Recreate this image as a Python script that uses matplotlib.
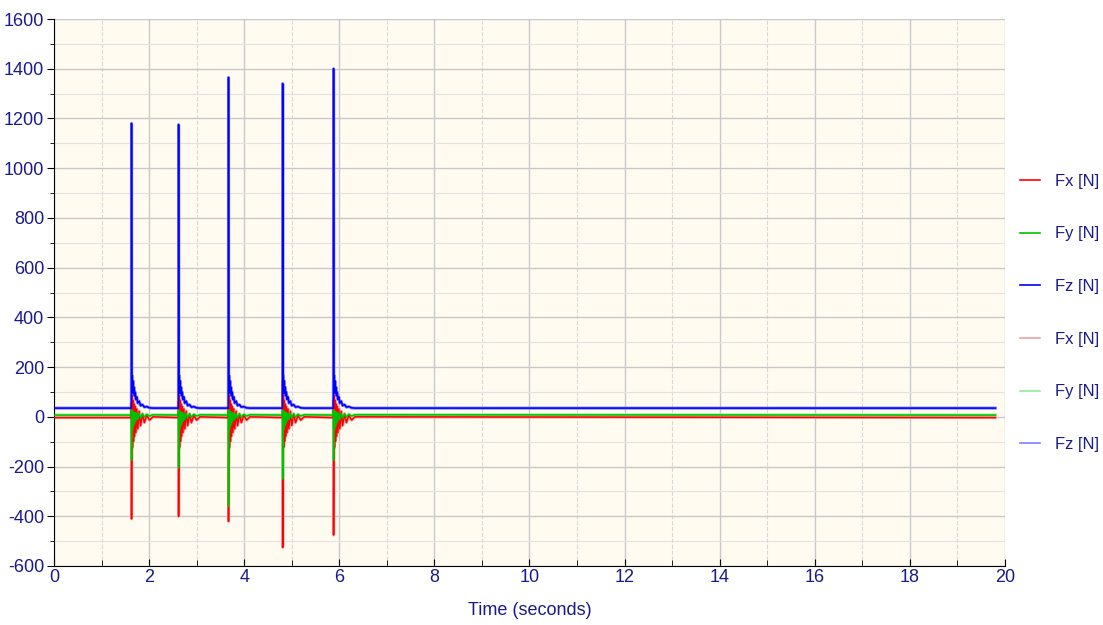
import numpy as np
import matplotlib.pyplot as plt
from matplotlib.ticker import MultipleLocator
from matplotlib.lines import Line2D

plt.rcParams['font.family'] = ['Liberation Sans', 'DejaVu Sans']
plt.rcParams['axes.unicode_minus'] = False

# impact events
spike_t = [1.63, 2.62, 3.67, 4.81, 5.88]
fz_peak = [1180, 1175, 1365, 1340, 1400]
fz_second = [170, 215, 210, 320, 240]
fx_min = [-410, -400, -420, -525, -475]
fx_first = [60, 65, 45, 150, 70]
fy_min = [-175, -205, -360, -250, -175]

# baselines (N) and end of the record (s)
fx_base = -3
fy_base = 7
fz_base = 35
t_end = 19.8

# ringing after each impact: time offsets (s) and values relative to the baseline
tail_dt = [0.005, 0.012, 0.02, 0.03, 0.04, 0.05, 0.06, 0.075, 0.09, 0.11,
           0.13, 0.16, 0.19, 0.23, 0.27, 0.32, 0.38, 0.45]
fx_tail = [-150, 90, -120, 70, -95, 55, -75, 45, -60, 35,
           -45, 25, -32, 15, -20, 9, -10, 3]
fy_tail = [-90, 20, -60, 15, -45, 12, -35, 10, -25, 8,
           -18, 6, -12, 4, -8, 3, -4, 1]
fz_tail = [60, 130, 70, 110, 60, 85, 50, 65, 35, 45,
           20, 28, 10, 14, 4, 6, 1, 0]

labels = ['Fx [N]', 'Fy [N]', 'Fz [N]', 'Fx [N]', 'Fy [N]', 'Fz [N]']
colors = ['#ff0000', '#00c000', '#0000ff', '#f4a0a0', '#90ee90', '#8080ff']


def build(base, first, peak, tail):
    t = [0.0]
    v = [base]
    for i, ts in enumerate(spike_t):
        t += [ts - 0.004, ts - 0.002, ts]
        v += [base, base + first[i], base + peak[i]]
        t += [ts + d for d in tail_dt]
        v += [base + x for x in tail]
    t.append(t_end)
    v.append(base)
    return np.array(t), np.array(v)


fx_t, fx_v = build(fx_base, fx_first, [m - fx_base for m in fx_min], fx_tail)
fy_t, fy_v = build(fy_base, [20] * 5, [m - fy_base for m in fy_min], fy_tail)
fz_t, fz_v = build(fz_base, fz_second, [p - fz_base for p in fz_peak], fz_tail)
series = [(fx_t, fx_v), (fy_t, fy_v), (fz_t, fz_v)]

fig = plt.figure(figsize=(11.03, 6.25), dpi=100)
ax = fig.add_axes([0.049, 0.0944, 0.862, 0.8752])
ax.set_facecolor('#fffbf0')

navy = '#1a1a8c'

# light copies underneath, dark ones on top
for (t, v), c in zip(series, colors[3:]):
    ax.plot(t, v, color=c, lw=2.2, zorder=2)
for (t, v), c in zip(series, colors[:3]):
    ax.plot(t, v, color=c, lw=1.1, zorder=3)

ax.set_xlim(0, 20)
ax.set_ylim(-600, 1600)
ax.xaxis.set_major_locator(MultipleLocator(2))
ax.xaxis.set_minor_locator(MultipleLocator(1))
ax.yaxis.set_major_locator(MultipleLocator(200))
ax.yaxis.set_minor_locator(MultipleLocator(100))

ax.grid(True, which='major', color='#c8c8c8', lw=1.0, zorder=0)
ax.grid(True, which='minor', axis='x', color='#d8d8d8', lw=0.8, ls='--', zorder=0)
ax.grid(True, which='minor', axis='y', color='#e2e2e2', lw=0.8, zorder=0)
ax.set_axisbelow(True)

for s in ['top', 'right']:
    ax.spines[s].set_visible(False)

ax.tick_params(axis='y', which='major', direction='out', length=5, labelsize=13, labelcolor=navy, pad=2)
ax.tick_params(axis='y', which='minor', direction='out', length=3)
ax.tick_params(axis='x', which='major', direction='in', length=5, labelsize=13, labelcolor=navy, pad=2)
ax.tick_params(axis='x', which='minor', direction='in', length=4)

ax.set_xlabel('Time (seconds)', fontsize=13, color=navy, labelpad=12)

leg_handles = [Line2D([], [], color=c, lw=1.2) for c in colors]
leg = fig.legend(leg_handles, labels,
                 loc='upper left', bbox_to_anchor=(0.911, 0.746), frameon=False,
                 fontsize=12, labelspacing=2.26, handlelength=1.2, handletextpad=0.9)
for txt in leg.get_texts():
    txt.set_color(navy)

fig.savefig('out.png', dpi=100)
